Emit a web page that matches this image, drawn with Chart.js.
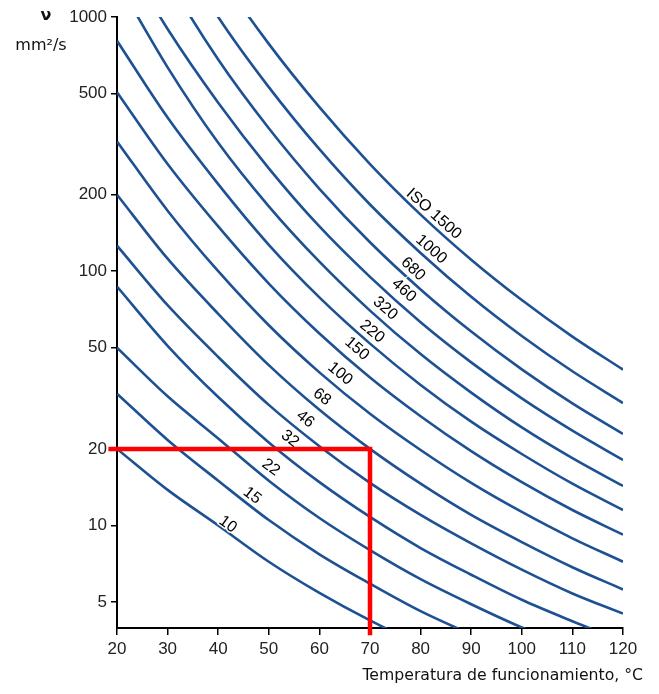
<!DOCTYPE html>
<html>
<head>
<meta charset="utf-8" />
<title>Viscosidad - temperatura ISO VG</title>
<script src="https://cdn.jsdelivr.net/npm/chart.js@4.4.1/dist/chart.umd.min.js"></script>
<style>
  html, body { margin: 0; padding: 0; background: #fff; }
</style>
</head>
<body>
<canvas id="chart" width="659" height="694"></canvas>
<script>
const temps = [20, 30, 40, 50, 60, 70, 80, 90, 100, 110, 120];

// viscosity (mm2/s) of every ISO VG curve at those temperatures
// (values just outside the axis range only carry the line to the edge)
const vg10 = [20, 13.8, 10, 7.2, 5.43, 4.23, 3.39, 2.79, null, null, null];
const vg15 = [33, 21.7, 15, 10.5, 7.7, 5.9, 4.6, 3.73, 3.08, null, null];
const vg22 = [50, 32.2, 22, 15, 10.7, 8.0, 6.15, 4.9, 3.97, 3.3, null];
const vg32 = [87, 50.9, 32, 21.2, 14.8, 10.8, 8.15, 6.4, 5.1, 4.2, 3.5];
const vg46 = [126, 73.5, 46, 29.8, 20.5, 14.7, 11.0, 8.5, 6.7, 5.4, 4.5];
const vg68 = [200, 112, 68, 42.7, 28.5, 20, 14.6, 11.0, 8.6, 6.85, 5.6];
const vg100 = [324, 173, 100, 61.3, 40, 27.5, 19.8, 14.7, 11.3, 8.9, 7.2];
const vg150 = [506, 264, 150, 89.4, 56.9, 38.2, 26.9, 19.6, 14.8, 11.5, 9.2];
const vg220 = [806, 402, 220, 127, 78.9, 51.9, 35.7, 25.6, 19.1, 14.6, 11.5];
const vg320 = [1390, 634, 320, 180, 109, 70, 47.2, 33.3, 24.3, 18.4, 14.3];
const vg460 = [1930, 897, 460, 254, 150, 95, 63, 43.8, 31.6, 23.6, 18.1];
const vg680 = [3330, 1420, 680, 365, 211, 130, 84.8, 57.9, 41.1, 30.2, 22.9];
const vg1000 = [5080, 2130, 1000, 530, 302, 183, 118, 79.3, 55.6, 40.4, 30.3];
const vg1500 = [7450, 3170, 1500, 784, 442, 264, 167, 111, 77, 55.3, 41];

const curves = [vg10, vg15, vg22, vg32, vg46, vg68, vg100, vg150, vg220, vg320, vg460, vg680, vg1000, vg1500];

// curve labels and where they sit (temperature, viscosity)
const labelTexts = ["10", "15", "22", "32", "46", "68", "100", "150", "220", "320", "460", "680", "1000", "ISO 1500"];
const labelTemps = [41.9, 46.7, 50.4, 54.2, 57.2, 60.5, 64.1, 67.4, 70.4, 73.0, 76.7, 78.5, 82.1, 82.6];
const labelVisc = [10.1, 13.1, 16.9, 21.9, 26.2, 32, 39.5, 49.6, 57.9, 71.4, 84, 102, 122, 168];

// example reading: 20 mm2/s at 70 °C
const readTemps = [18.3, 70, 70];
const readVisc = [20, 20, 3.7];

const yTicks = [5, 10, 20, 50, 100, 200, 500, 1000];

const BLUE = "#1d5193";
const tickFont = { family: "'Liberation Sans', Arial, sans-serif", size: 17 };

const datasets = [
	{
		data: readTemps.map((t, i) => ({ x: t, y: readVisc[i] })),
		borderColor: "#ff0000",
		borderWidth: 4.5,
		pointRadius: 0,
		tension: 0,
		clip: { left: 10, top: 0, right: 0, bottom: 10 },
	},
];
curves.forEach((arr) => {
	datasets.push({
		data: temps.map((t, i) => ({ x: t, y: arr[i] })).filter((p) => p.y !== null),
		borderColor: BLUE,
		borderWidth: 2.6,
		pointRadius: 0,
		cubicInterpolationMode: "monotone",
	});
});

// labels go on top of the blue curves but under the red reading line
const curveLabels = {
	id: "curveLabels",
	afterDatasetDraw(chart, args) {
		if (args.index !== 1) return;
		const ctx = chart.ctx;
		const xs = chart.scales.x;
		const ys = chart.scales.y;
		const area = chart.chartArea;
		ctx.save();
		ctx.beginPath();
		ctx.rect(area.left, area.top, area.right - area.left, area.bottom - area.top);
		ctx.clip();
		ctx.font = "16px 'Liberation Sans', Arial, sans-serif";
		ctx.textAlign = "center";
		ctx.textBaseline = "middle";
		labelTexts.forEach((txt, k) => {
			const px = xs.getPixelForValue(labelTemps[k]);
			const py = ys.getPixelForValue(labelVisc[k]);
			// slope of the matching curve near the label
			const pts = chart.getDatasetMeta(k + 1).data;
			let ang = 0.7;
			for (let i = 0; i < pts.length - 1; i++) {
				if (pts[i].x <= px && pts[i + 1].x > px) {
					ang = Math.atan2(pts[i + 1].y - pts[i].y, pts[i + 1].x - pts[i].x);
					break;
				}
			}
			ctx.save();
			ctx.translate(px, py);
			ctx.rotate(ang);
			ctx.lineWidth = 3;
			ctx.strokeStyle = "#fff";
			ctx.strokeText(txt, 0, 0);
			ctx.fillStyle = "#000";
			ctx.fillText(txt, 0, 0);
			ctx.restore();
		});
		ctx.restore();
	},
	afterDraw(chart) {
		const ctx = chart.ctx;
		const area = chart.chartArea;
		ctx.save();
		ctx.fillStyle = "#111";
		ctx.textBaseline = "middle";
		// x axis title
		ctx.font = "15.7px 'DejaVu Sans', Verdana, sans-serif";
		ctx.textAlign = "right";
		ctx.fillText("Temperatura de funcionamiento, °C", area.right + 20, 676);
		// y axis title
		ctx.textAlign = "center";
		ctx.font = "bold 16px 'DejaVu Sans', Verdana, sans-serif";
		ctx.fillText("ν", area.left - 71, 16);
		ctx.font = "16px 'DejaVu Sans', Verdana, sans-serif";
		ctx.fillText("mm²/s", area.left - 76, 46);
		ctx.restore();
	},
};

new Chart(document.getElementById("chart").getContext("2d"), {
	type: "line",
	data: { datasets: datasets },
	options: {
		responsive: false,
		animation: false,
		devicePixelRatio: 1,
		layout: { padding: { top: 17, right: 36, bottom: 0, left: 0 } },
		plugins: {
			legend: { display: false },
			tooltip: { enabled: false },
		},
		scales: {
			x: {
				type: "linear",
				min: 20,
				max: 120,
				ticks: { stepSize: 10, color: "#222", font: tickFont, padding: 4, maxRotation: 0 },
				grid: { drawOnChartArea: false, drawTicks: true, tickLength: 7, color: "#000", lineWidth: 1.5 },
				border: { color: "#000", width: 2 },
				afterFit(scale) {
					scale.height = 66;
				},
			},
			y: {
				type: "logarithmic",
				min: 3.95,
				max: 1000,
				afterBuildTicks(scale) {
					scale.ticks = yTicks.map((v) => ({ value: v }));
				},
				ticks: { color: "#222", font: tickFont, padding: 4, callback: (v) => String(v) },
				grid: { drawOnChartArea: false, drawTicks: true, tickLength: 6, color: "#000", lineWidth: 1.5 },
				border: { color: "#000", width: 2 },
				afterFit(scale) {
					scale.width = 117;
				},
			},
		},
	},
	plugins: [curveLabels],
});
</script>
</body>
</html>
